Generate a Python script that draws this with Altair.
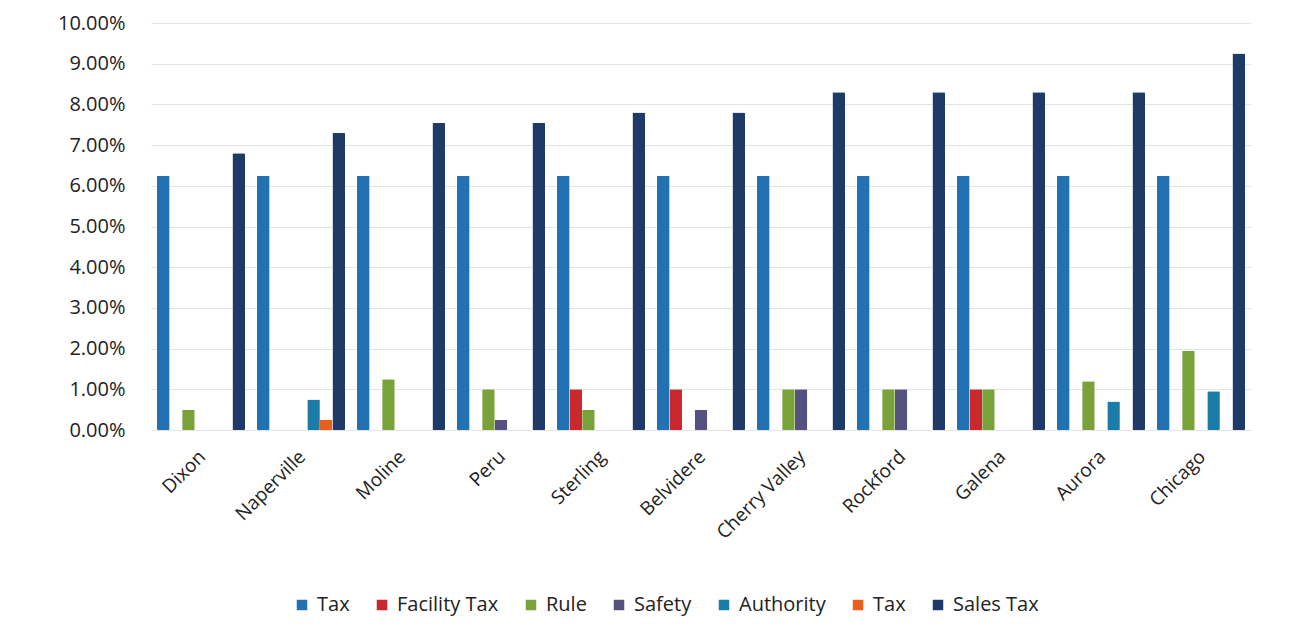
import altair as alt
import pandas as pd

cities = ["Dixon", "Naperville", "Moline", "Peru", "Sterling", "Belvidere",
          "Cherry Valley", "Rockford", "Galena", "Aurora", "Chicago"]

series = ["Tax", "Facility Tax", "Rule", "Safety", "Authority", "Tax 2", "Sales Tax"]
colors = ["#2271B3", "#C8282E", "#7AA23A", "#56527F", "#1A7DA8", "#E8601C", "#1D3B66"]

# values in percent
tax          = [6.25, 6.25, 6.25, 6.25, 6.25, 6.25, 6.25, 6.25, 6.25, 6.25, 6.25]
facility_tax = [0, 0, 0, 0, 1.0, 1.0, 0, 0, 1.0, 0, 0]
rule         = [0.5, 0, 1.25, 1.0, 0.5, 0, 1.0, 1.0, 1.0, 1.2, 1.95]
safety       = [0, 0, 0, 0.25, 0, 0.5, 1.0, 1.0, 0, 0, 0]
authority    = [0, 0.75, 0, 0, 0, 0, 0, 0, 0, 0.7, 0.95]
tax_2        = [0, 0.25, 0, 0, 0, 0, 0, 0, 0, 0, 0]
sales_tax    = [6.8, 7.3, 7.55, 7.55, 7.8, 7.8, 8.3, 8.3, 8.3, 8.3, 9.25]

values = [tax, facility_tax, rule, safety, authority, tax_2, sales_tax]

rows = []
for s, vals in zip(series, values):
    for c, v in zip(cities, vals):
        rows.append({"city": c, "series": s, "value": v})
df = pd.DataFrame(rows)

FONT = "Open Sans"

chart = alt.Chart(df).mark_bar(cornerRadius=1).encode(
    x=alt.X("city:N", sort=cities, title=None,
            scale=alt.Scale(paddingInner=0.12, paddingOuter=0.06),
            axis=alt.Axis(labelAngle=-45, labelFontSize=19, labelFont=FONT,
                          labelColor="#222222", ticks=False, tickSize=0,
                          domain=False, labelPadding=17, labelAlign="right",
                          labelBaseline="top", labelOffset=-5)),
    xOffset=alt.XOffset("series:N", sort=series,
                        scale=alt.Scale(paddingInner=0, paddingOuter=0)),
    y=alt.Y("value:Q", title=None,
            scale=alt.Scale(domain=[0, 10], nice=False),
            axis=alt.Axis(values=list(range(0, 11)), labelExpr="format(datum.value, '.2f') + '%'",
                          labelFontSize=20, labelFont=FONT, labelColor="#222222",
                          ticks=False, tickSize=0, domain=False, labelPadding=26,
                          grid=True, gridColor="#E4E4E4", gridWidth=1.2)),
    color=alt.Color("series:N", sort=series,
                    scale=alt.Scale(domain=series, range=colors),
                    legend=alt.Legend(title=None, orient="none", legendX=141, legendY=572,
                                      direction="horizontal", symbolType="square",
                                      symbolSize=110, symbolStrokeWidth=0,
                                      labelFontSize=20, labelFont=FONT, labelColor="#222222",
                                      labelOffset=5, columnPadding=22,
                                      labelExpr="datum.label == 'Tax 2' ? 'Tax' : datum.label")),
).properties(
    width=1100,
    height=407,
    background="white",
    padding={"left": 49, "top": 5, "right": 5, "bottom": 5},
).configure_view(strokeWidth=0, stroke="transparent")

chart.save("out.html", embed_options={"renderer": "svg", "actions": False})
